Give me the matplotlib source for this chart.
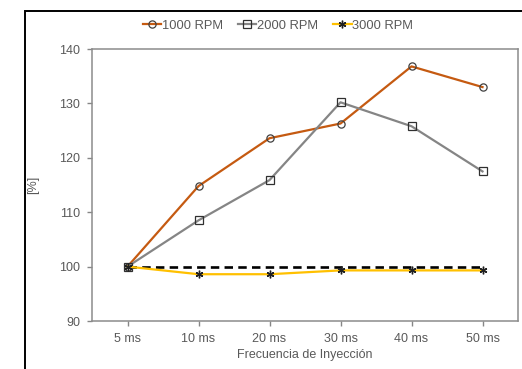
import matplotlib
matplotlib.use("Agg")
import matplotlib.pyplot as plt
from matplotlib.patches import Rectangle

plt.rcParams['font.family'] = ['Liberation Sans', 'DejaVu Sans']

categories = ["5 ms", "10 ms", "20 ms", "30 ms", "40 ms", "50 ms"]
rpm1000 = [100.0, 114.8, 123.6, 126.3, 136.8, 133.0]
rpm2000 = [100.0, 108.5, 115.9, 130.2, 125.8, 117.5]
rpm3000 = [100.0, 98.6, 98.6, 99.3, 99.3, 99.3]
reference = [100.0] * len(categories)
series_names = ["1000 RPM", "2000 RPM", "3000 RPM"]
y_ticks = [90, 100, 110, 120, 130, 140]

W, H = 522, 369
fig = plt.figure(figsize=(W / 100, H / 100), dpi=100)
ax = fig.add_axes([92 / W, 1 - 321 / H, (518 - 92) / W, (321 - 49) / H])

x = list(range(len(categories)))
text_c = "#595959"
edge_c = "#404040"
fs = 9.0

ax.plot(x, reference, color="black", lw=1.9, dashes=(3.2, 2.0), zorder=2)
l1, = ax.plot(x, rpm1000, color="#C55A11", lw=1.6, marker="o", ms=5.2,
              mfc="none", mec=edge_c, mew=0.9, zorder=3, label=series_names[0])
l2, = ax.plot(x, rpm2000, color="#858585", lw=1.6, marker="s", ms=5.2,
              mfc="none", mec="#303030", mew=0.9, zorder=3, label=series_names[1])
l3, = ax.plot(x, rpm3000, color="#FFC000", lw=1.6, marker=(6, 2, 0), ms=5.5,
              mec="#202020", mew=1.0, zorder=4, label=series_names[2])

ax.set_xlim(-0.5, len(categories) - 0.5)
ax.set_ylim(90, 140)
ax.set_xticks(x)
ax.set_xticklabels(categories)
ax.set_yticks(y_ticks)
ax.tick_params(axis="both", colors="#868686", labelcolor=text_c, labelsize=fs,
               direction="out", length=3.5, width=1)
ax.tick_params(axis="x", pad=5)
ax.tick_params(axis="y", pad=5)
for s in ax.spines.values():
    s.set_color("#8C8C8C")
    s.set_linewidth(1.1)

ax.set_xlabel("Frecuencia de Inyección", color=text_c, fontsize=fs, labelpad=3)
fig.text(33 / W, 1 - 185 / H, "[%]", rotation=90, color=text_c, fontsize=fs,
         ha="center", va="center")

fig.legend(handles=[l1, l2, l3], loc="center", bbox_to_anchor=(278 / W, 1 - 26 / H),
           ncol=3, frameon=False, fontsize=9.3, handlelength=1.4, handletextpad=0.05,
           columnspacing=1.2, labelcolor=text_c)

# outer chart frame
fig.patches.append(Rectangle((25 / W, -0.1), 1.2, 1.1 - 11 / H, transform=fig.transFigure,
                             fill=False, edgecolor="black", lw=1.4, zorder=0))

fig.savefig("out.png", dpi=100)
